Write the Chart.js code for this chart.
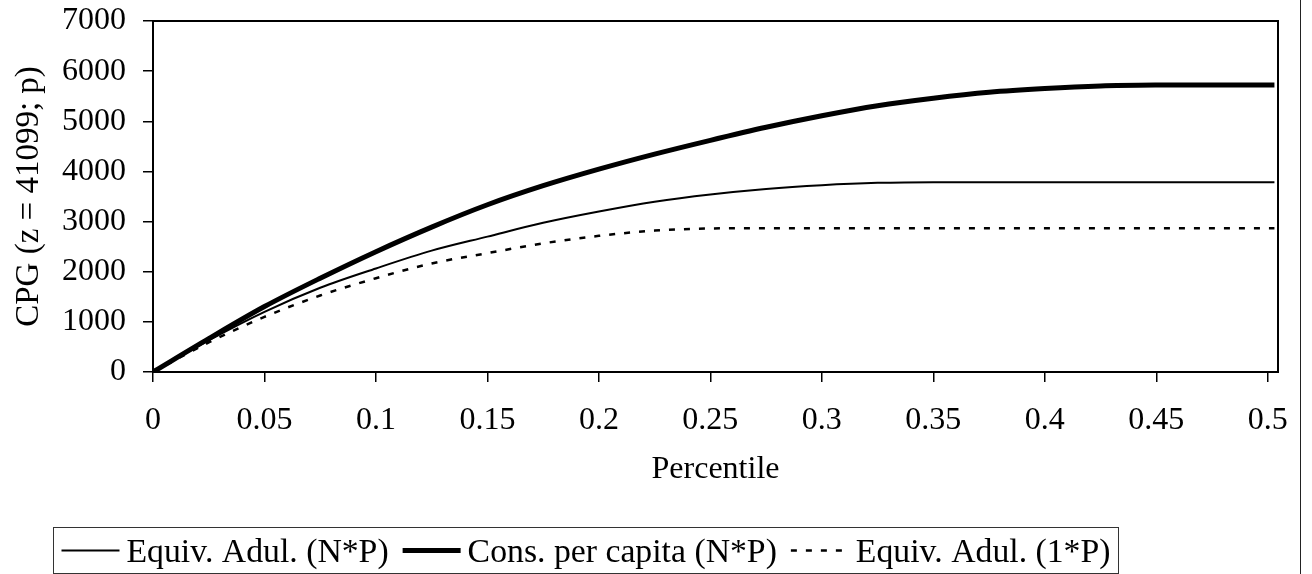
<!DOCTYPE html>
<html>
<head>
<meta charset="utf-8">
<title>CPG by percentile</title>
<script src="https://cdn.jsdelivr.net/npm/chart.js@4.4.0/dist/chart.umd.min.js"></script>
<style>
  html, body { margin: 0; padding: 0; background: #fff; }
  #wrap { width: 1312px; height: 574px; }
</style>
</head>
<body>
<div id="wrap"><canvas id="cpgChart" width="1312" height="574"></canvas></div>
<script>
// percentile of the distribution (x) and CPG values of each series
var percentile = [0, 0.025, 0.05, 0.075, 0.1, 0.125, 0.15, 0.175, 0.2, 0.225, 0.25, 0.275, 0.3, 0.325, 0.35, 0.375, 0.4, 0.425, 0.45, 0.475, 0.5, 0.503];
var equivAdulNP = [0, 630, 1200, 1680, 2065, 2420, 2700, 2975, 3200, 3395, 3540, 3650, 3725, 3772, 3786, 3786, 3786, 3786, 3786, 3786, 3786, 3786];
var consPerCapita = [0, 665, 1305, 1870, 2400, 2890, 3335, 3715, 4045, 4345, 4620, 4880, 5110, 5310, 5460, 5580, 5655, 5705, 5722, 5725, 5725, 5725];
var equivAdul1P = [0, 590, 1100, 1525, 1870, 2165, 2370, 2565, 2715, 2820, 2862, 2868, 2868, 2868, 2868, 2868, 2868, 2868, 2868, 2868, 2868, 2868];

var seriesLabels = ["Equiv. Adul. (N*P)", "Cons. per capita (N*P)", "Equiv. Adul. (1*P)"];
var xTickValues = [0, 0.05, 0.1, 0.15, 0.2, 0.25, 0.3, 0.35, 0.4, 0.45, 0.5];

var serif = "'Liberation Serif', 'Times New Roman', serif";

function toPoints(ys) {
  return percentile.map(function(p, i) { return {x: p, y: ys[i]}; });
}

// plot frame, outer edge and the boxed legend under the axis
var framePlugin = {
  id: "frame",
  afterDraw: function(chart) {
    var ctx = chart.ctx, a = chart.chartArea;
    ctx.save();
    ctx.strokeStyle = "#000";
    ctx.lineWidth = 2;
    ctx.strokeRect(a.left, a.top, a.right - a.left, a.bottom - a.top);

    ctx.lineWidth = 1;
    ctx.strokeStyle = "#222";
    ctx.beginPath();
    ctx.moveTo(1300.5, 0);
    ctx.lineTo(1300.5, chart.height);
    ctx.stroke();

    // legend
    var box = {left: 53.5, top: 527.5, right: 1118.5, bottom: 573.5};
    ctx.strokeStyle = "#333";
    ctx.strokeRect(box.left, box.top, box.right - box.left, box.bottom - box.top);
    ctx.font = "33px " + serif;
    ctx.fillStyle = "#000";
    ctx.textBaseline = "alphabetic";
    var sample = 58, gap = 7, itemGap = 14;
    var natural = 0;
    chart.data.datasets.forEach(function(ds) { natural += ctx.measureText(ds.label).width; });
    var avail = (box.right - box.left) - 16 - 3 * (sample + gap) - 2 * itemGap;
    var sx = avail / natural;
    var x = box.left + 8, cy = (box.top + box.bottom) / 2;
    chart.data.datasets.forEach(function(ds) {
      ctx.save();
      ctx.strokeStyle = ds.borderColor;
      ctx.lineWidth = ds.borderWidth;
      ctx.setLineDash(ds.borderDash || []);
      ctx.beginPath();
      ctx.moveTo(x, cy);
      ctx.lineTo(x + sample, cy);
      ctx.stroke();
      ctx.restore();
      x += sample + gap;
      var w = ctx.measureText(ds.label).width * sx;
      ctx.save();
      ctx.translate(x, cy + 11);
      ctx.scale(sx, 1);
      ctx.fillText(ds.label, 0, 0);
      ctx.restore();
      x += w + itemGap;
    });
    ctx.restore();
  }
};

new Chart(document.getElementById("cpgChart"), {
  type: "line",
  data: {
    datasets: [
      {
        label: seriesLabels[0],
        data: toPoints(equivAdulNP),
        borderColor: "#000",
        borderWidth: 2,
        pointRadius: 0,
        cubicInterpolationMode: "monotone",
        fill: false
      },
      {
        label: seriesLabels[1],
        data: toPoints(consPerCapita),
        borderColor: "#000",
        borderWidth: 5,
        pointRadius: 0,
        cubicInterpolationMode: "monotone",
        fill: false
      },
      {
        label: seriesLabels[2],
        data: toPoints(equivAdul1P),
        borderColor: "#000",
        borderWidth: 2.5,
        borderDash: [6, 9],
        pointRadius: 0,
        cubicInterpolationMode: "monotone",
        fill: false
      }
    ]
  },
  options: {
    responsive: false,
    animation: false,
    layout: { padding: { left: 0, top: 21, right: 34, bottom: 80 } },
    plugins: {
      legend: { display: false },
      tooltip: { enabled: false }
    },
    scales: {
      x: {
        type: "linear",
        min: 0,
        max: 0.5046,
        afterBuildTicks: function(scale) {
          scale.ticks = xTickValues.map(function(v) { return {value: v}; });
        },
        afterFit: function(scale) { scale.height = 122; },
        grid: { drawOnChartArea: false, color: "#000", lineWidth: 1.5, tickLength: 10 },
        border: { display: false },
        ticks: {
          color: "#000",
          font: { family: serif, size: 32 },
          padding: 19,
          maxRotation: 0,
          autoSkip: false,
          callback: function(v) { return String(v); }
        },
        title: {
          display: true,
          text: "Percentile",
          color: "#000",
          font: { family: serif, size: 32 },
          padding: { top: 0, bottom: 5 }
        }
      },
      y: {
        min: 0,
        max: 7000,
        afterFit: function(scale) {
          scale.width = 153;
          scale.paddingTop = 0;
          scale.paddingBottom = 0;
        },
        grid: { drawOnChartArea: false, color: "#000", lineWidth: 1.5, tickLength: 10 },
        border: { display: false },
        ticks: {
          stepSize: 1000,
          color: "#000",
          font: { family: serif, size: 32 },
          padding: 17,
          callback: function(v) { return String(v); }
        },
        title: {
          display: true,
          text: "CPG (z = 41099; p)",
          color: "#000",
          font: { family: serif, size: 33 },
          padding: { top: 10, bottom: 0 }
        }
      }
    }
  },
  plugins: [framePlugin]
});
</script>
</body>
</html>
